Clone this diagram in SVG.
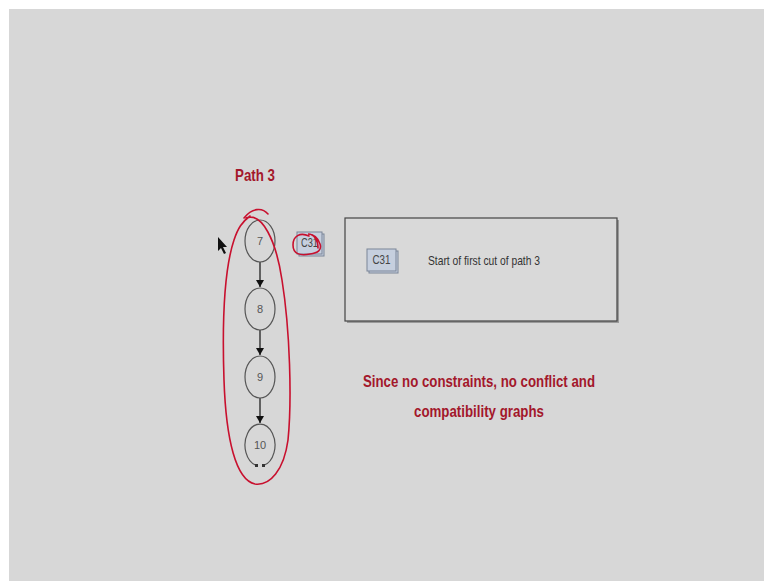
<svg xmlns="http://www.w3.org/2000/svg" width="764" height="581" viewBox="0 0 764 581">
<defs>
<marker id="ah" markerWidth="7" markerHeight="8" refX="7" refY="4" orient="auto" markerUnits="userSpaceOnUse">
<path d="M0,0 L7,4 L0,8 Z" fill="#111"/>
</marker>
<style>
.node ellipse{fill:none;stroke:#555;stroke-width:1.2}
.node text{font-family:"Liberation Sans",Arial,sans-serif;font-size:11px;fill:#555;text-anchor:middle}
.edge{stroke:#111;stroke-width:1.2;fill:none;marker-end:url(#ah)}
.ink{fill:none;stroke:#c8102e;stroke-width:1.6;stroke-linecap:round}
.red{font-family:"Liberation Sans",Arial,sans-serif;font-weight:bold;fill:#a3172b;font-size:17px}
.tag rect{fill:#c6cfde;stroke:#7a8598;stroke-width:1}
.tag text{font-family:"Liberation Sans",Arial,sans-serif;font-size:12px;fill:#444}
</style>
</defs>
<rect width="764" height="581" fill="#ffffff"/>
<rect x="9" y="9" width="755" height="572" fill="#d7d7d7"/>

<text class="red" x="255" y="181" text-anchor="middle" textLength="40" lengthAdjust="spacingAndGlyphs">Path 3</text>

<g id="connectors">
<line class="edge" x1="260" y1="262" x2="260" y2="287"/>
<line class="edge" x1="260" y1="330" x2="260" y2="355"/>
<line class="edge" x1="260" y1="398" x2="260" y2="423"/>
</g>

<g id="n7" class="node"><ellipse cx="260" cy="241" rx="15" ry="21"/><text x="260" y="245">7</text></g>
<g id="n8" class="node"><ellipse cx="260" cy="309" rx="15" ry="21"/><text x="260" y="313">8</text></g>
<g id="n9" class="node"><ellipse cx="260" cy="377" rx="15" ry="21"/><text x="260" y="381">9</text></g>
<g id="n10" class="node">
<path d="M256.5,465.5 A15,21 0 1 1 263.5,465.5" fill="none" stroke="#555" stroke-width="1.2"/>
<rect x="255" y="464" width="3" height="3" fill="#333"/><rect x="262" y="464" width="3" height="3" fill="#333"/>
<text x="260" y="449">10</text></g>

<g id="c31tag" class="tag">
<rect x="299" y="234" width="25" height="22" fill="#a5adb8" stroke="none"/>
<rect x="297" y="232" width="25" height="22"/>
<text x="309.5" y="247" text-anchor="middle" textLength="17" lengthAdjust="spacingAndGlyphs">C31</text>
</g>

<g id="legend">
<rect x="347" y="220" width="272" height="103" fill="#9a9a9a"/>
<rect x="345" y="218" width="272" height="103" fill="#d9d9d9" stroke="#444" stroke-width="1.2"/>
<g class="tag">
<rect x="369" y="251" width="29" height="22" fill="#a5adb8" stroke="none"/>
<rect x="367" y="249" width="29" height="22"/>
<text x="381.5" y="264" text-anchor="middle" textLength="18" lengthAdjust="spacingAndGlyphs">C31</text>
</g>
<text x="428" y="265" font-family="'Liberation Sans',Arial,sans-serif" font-size="13" fill="#333" textLength="112" lengthAdjust="spacingAndGlyphs">Start of first cut of path 3</text>
</g>

<text class="red" x="479" y="387" text-anchor="middle" textLength="232" lengthAdjust="spacingAndGlyphs">Since no constraints, no conflict and</text>
<text class="red" x="479" y="417" text-anchor="middle" textLength="130" lengthAdjust="spacingAndGlyphs">compatibility graphs</text>

<g id="annotations">
<path class="ink" d="M244,218 C252,208 262,207 268,214"/>
<path class="ink" d="M246,218 C262,212 276,240 282,280 C290,330 292,400 288,440 C284,470 270,486 255,484 C236,480 226,440 224,380 C222,320 224,270 234,240 C238,228 242,222 250,216"/>
<path class="ink" d="M309,236 C300,232 293,236 293,245 C293,254 300,256 310,254 C318,253 322,250 320,244 C318,238 314,234 308,234 C314,234 318,240 318,248"/>
</g>

<path d="M218,237 L218,251 L221,248 L224,254 L226,253 L223,247 L227,247 Z" fill="#111"/>
</svg>
